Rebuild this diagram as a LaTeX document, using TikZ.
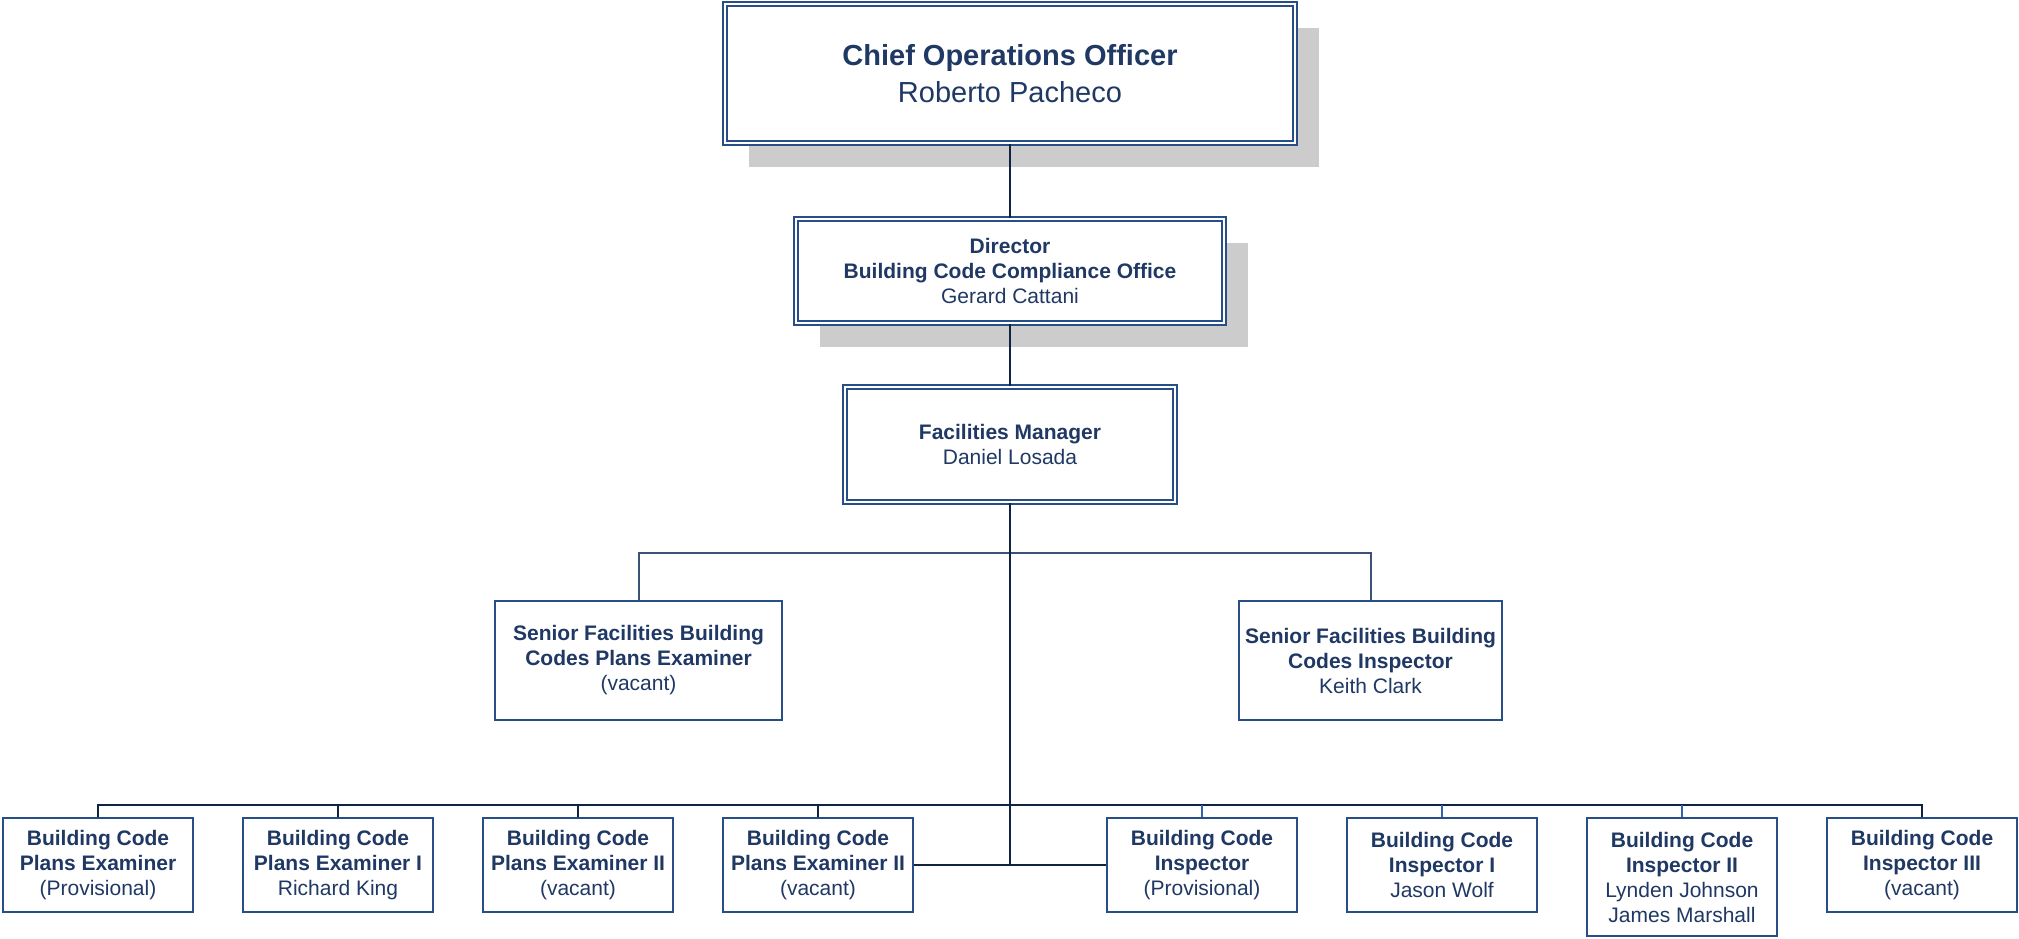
\documentclass[tikz,border=0pt]{standalone}
\usepackage{fontspec}
\setmainfont{Liberation Sans}
\usepackage{tikz}
\usetikzlibrary{shapes, arrows, positioning, shadows, calc}

\definecolor{boxblue}{RGB}{40,78,136}
\definecolor{textnavy}{RGB}{31,56,100}
\definecolor{linedark}{RGB}{16,36,66}
\definecolor{linemid}{RGB}{58,82,117}
\definecolor{tickblue}{RGB}{50,100,170}
\definecolor{shadowgray}{RGB}{204,204,204}

\begin{document}
\begin{tikzpicture}[
        x=1pt, y=-1pt,
        rolebox/.style={rectangle, draw=boxblue, line width=2pt, fill=white, text=textnavy, align=center, inner sep=0pt, font=\fontsize{21}{25}\selectfont},
        headbox/.style={rolebox, line width=2.2pt, double=white, double distance=1.6pt},
        boxshadow/.style={drop shadow={shadow xshift=24pt, shadow yshift=-24pt, fill=shadowgray, opacity=1}},
        staffbox/.style={rolebox, minimum width=190pt, minimum height=94pt},
        trunk/.style={draw=linedark, line width=2pt},
        branch/.style={draw=linemid, line width=2pt},
        tick/.style={draw=tickblue, line width=1.3pt}
    ]
        \useasboundingbox (0,0) rectangle (2019,939);

        % Management
        \node[headbox, boxshadow, minimum width=570pt, minimum height=139pt, font=\fontsize{29}{37}\selectfont] (coo) at (1010,73.5)
            {\textbf{Chief Operations Officer}\\Roberto Pacheco};
        \node[headbox, boxshadow, minimum width=428pt, minimum height=104pt] (dir) at (1010,271)
            {\textbf{Director}\\\textbf{Building Code Compliance Office}\\Gerard Cattani};
        \node[headbox, minimum width=330pt, minimum height=115pt] (fm) at (1010,444.5)
            {\textbf{Facilities Manager}\\Daniel Losada};

        % Senior staff
        \node[rolebox, minimum width=287pt, minimum height=119pt] (snrplan) at (638.5,660.5)
            {\textbf{Senior Facilities Building}\\\textbf{Codes Plans Examiner}\\(vacant)};
        \node[rolebox, minimum width=263pt, minimum height=119pt] (snrinsp) at (1370.5,660.5)
            {\textbf{Senior Facilities Building}\\\textbf{Codes Inspector}\\Keith Clark};

        % Examiners and inspectors
        \node[staffbox] (bc1) at (98,865) {\textbf{Building Code}\\\textbf{Plans Examiner}\\(Provisional)};
        \node[staffbox] (bc2) at (338,865) {\textbf{Building Code}\\\textbf{Plans Examiner I}\\Richard King};
        \node[staffbox] (bc3) at (578,865) {\textbf{Building Code}\\\textbf{Plans Examiner II}\\(vacant)};
        \node[staffbox] (bc4) at (818,865) {\textbf{Building Code}\\\textbf{Plans Examiner II}\\(vacant)};
        \node[staffbox] (bc5) at (1202,865) {\textbf{Building Code}\\\textbf{Inspector}\\(Provisional)};
        \node[staffbox] (bc6) at (1442,865) {\textbf{Building Code}\\\textbf{Inspector I}\\Jason Wolf};
        \node[staffbox, minimum height=118pt] (bc7) at (1682,877) {\textbf{Building Code}\\\textbf{Inspector II}\\Lynden Johnson\\James Marshall};
        \node[staffbox] (bc8) at (1922,865) {\textbf{Building Code}\\\textbf{Inspector III}\\(vacant)};

        % Reporting lines
        \coordinate (split) at (1010,553);
        \coordinate (rail) at (1010,805);
        \draw[trunk] (coo.south) -- (dir.north);
        \draw[trunk] (dir.south) -- (fm.north);
        \draw[branch] (snrplan.north) |- (split) -| (snrinsp.north);
        \draw[trunk] (fm.south) -- (fm.south |- bc4.east);
        \draw[trunk] (bc1.north) |- (rail) -| (bc8.north);
        \foreach \n in {bc2, bc3, bc4}
            \draw[trunk] (\n.north) -- (\n.north |- rail);
        \foreach \n in {bc5, bc6, bc7}
            \draw[tick] (\n.north) -- (\n.north |- rail);
        \draw[trunk] (bc4.east) -- (bc5.west);
    \end{tikzpicture}
\end{document}
